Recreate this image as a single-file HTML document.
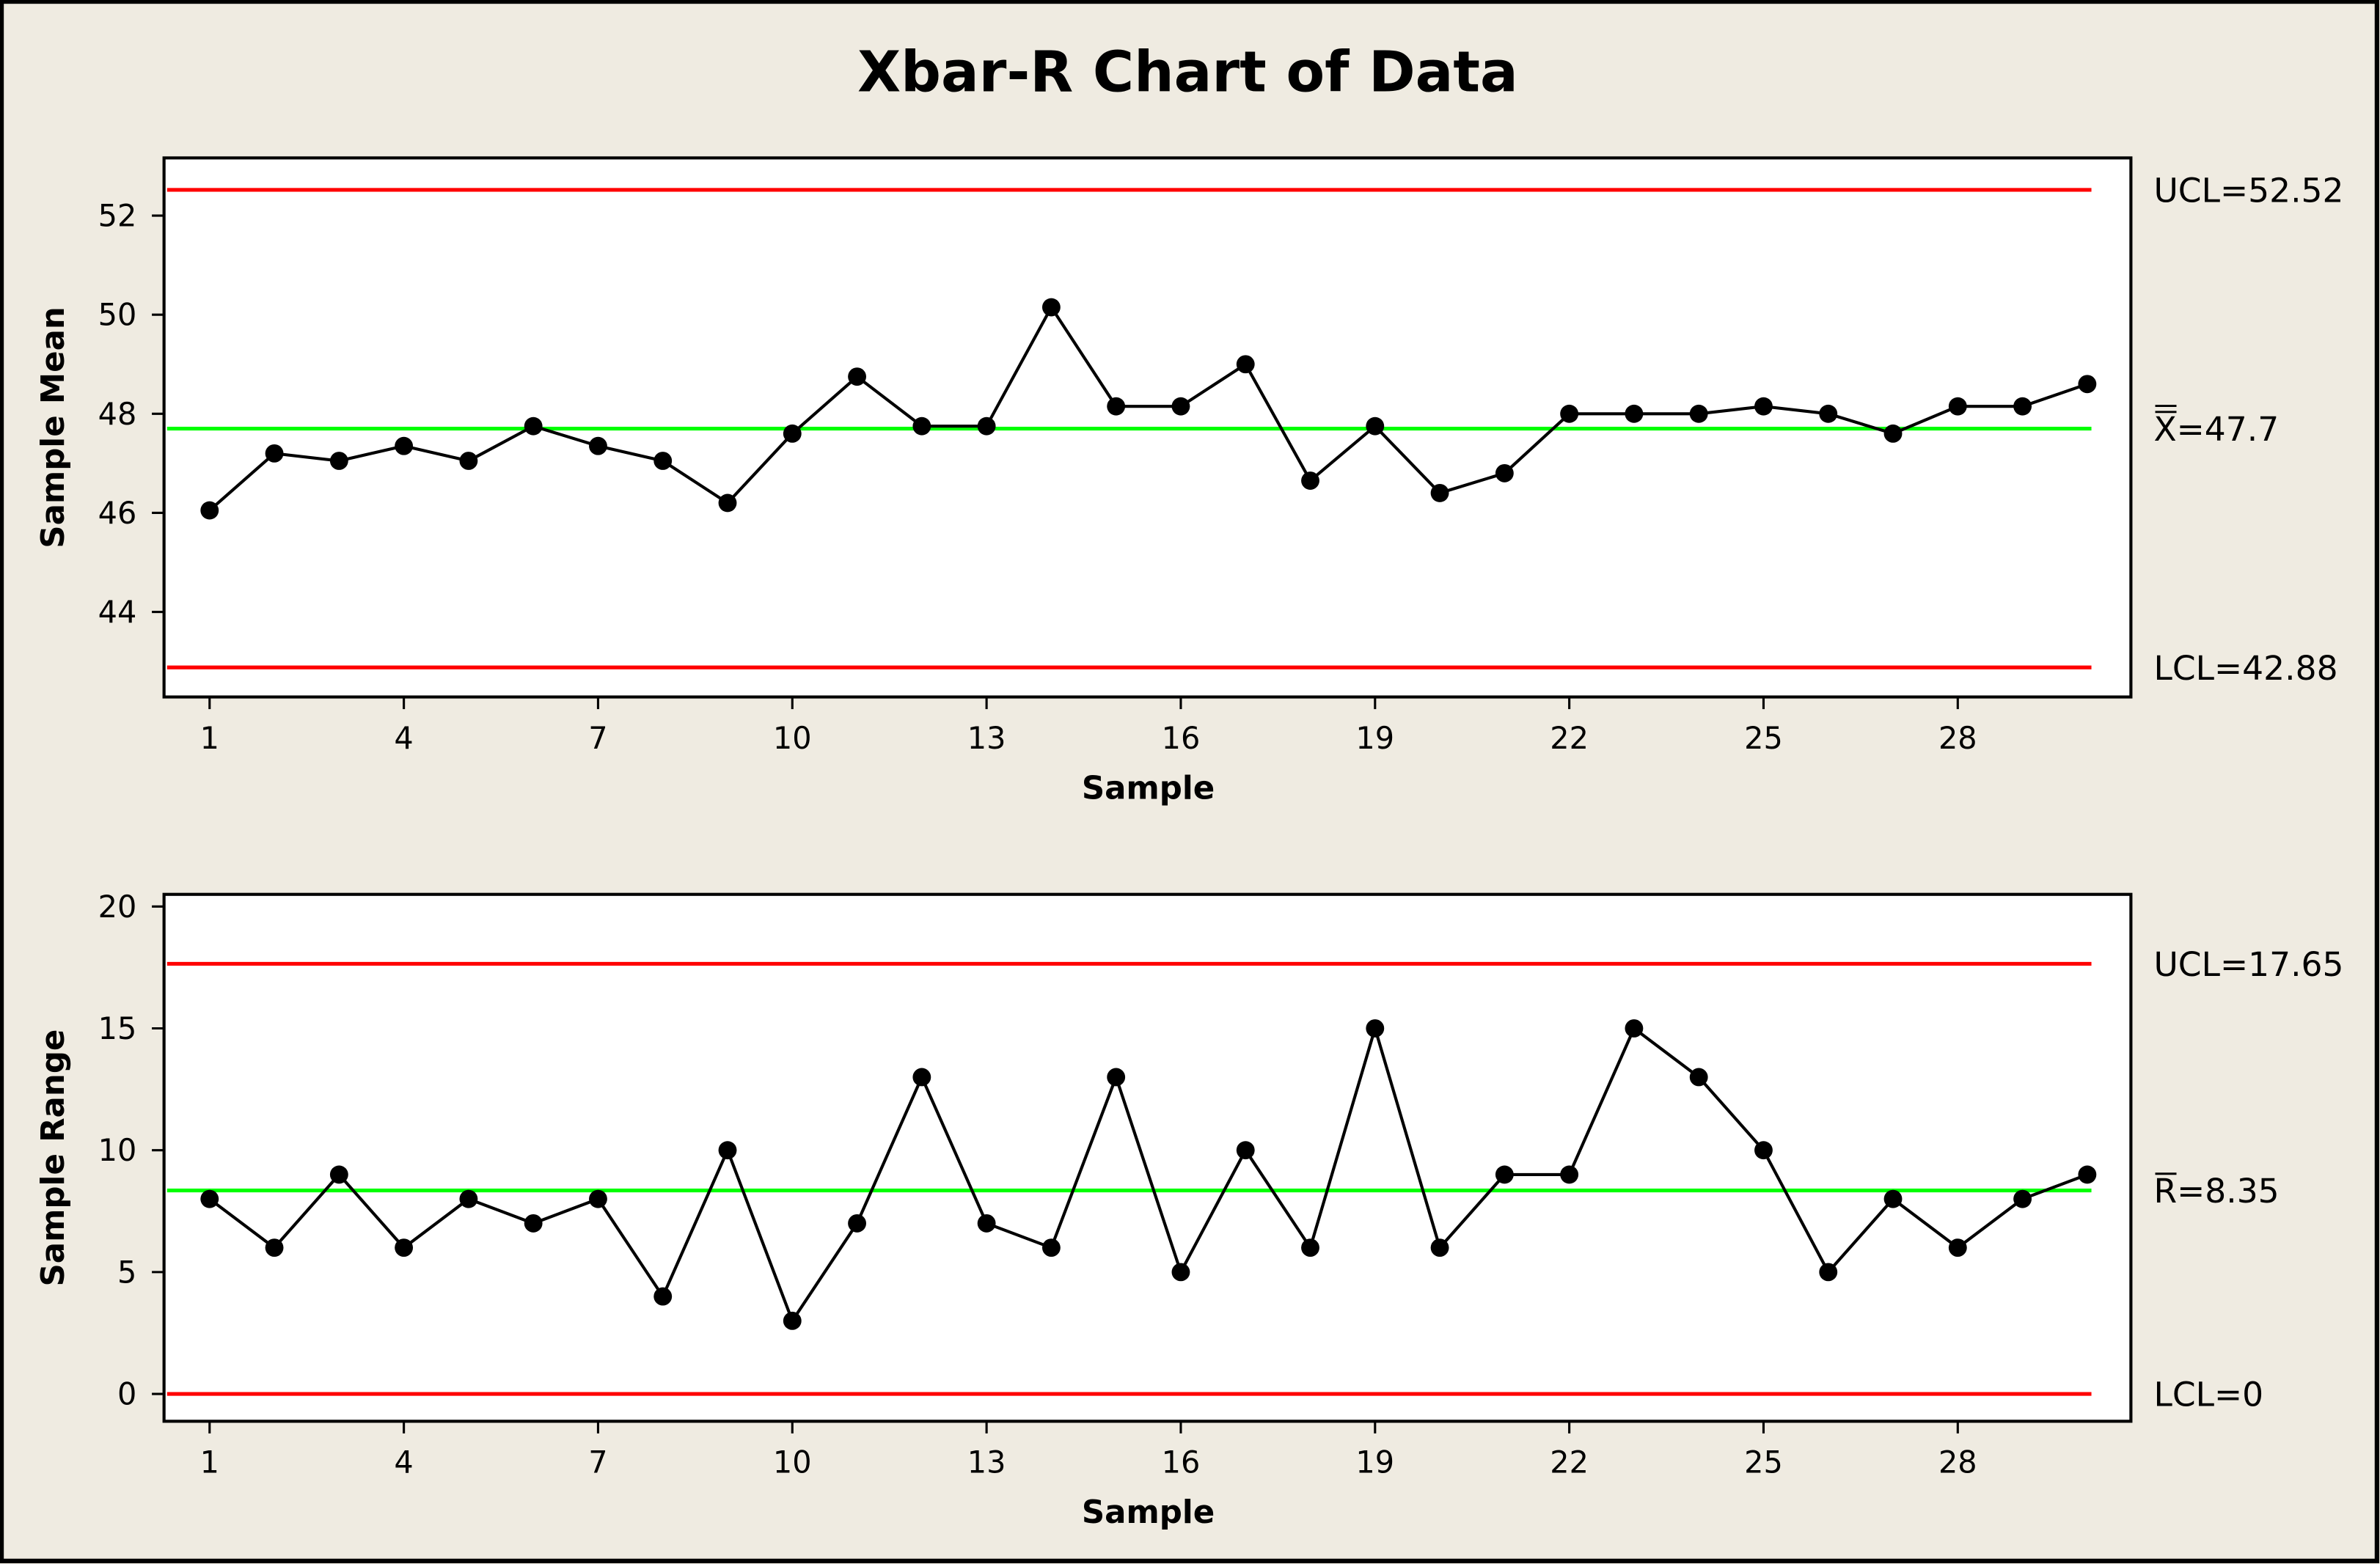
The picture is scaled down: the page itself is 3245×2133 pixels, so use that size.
<!DOCTYPE html>
<html><head><meta charset="utf-8"><style>
html,body{margin:0;padding:0;background:#efebe1;}
svg{display:block;}
text{font-family:"DejaVu Sans","Liberation Sans",sans-serif;fill:#000;}
</style></head><body>
<svg id="c" width="3245" height="2133" viewBox="0 0 1567 1030" preserveAspectRatio="none" xmlns="http://www.w3.org/2000/svg">
<rect x="1" y="1" width="1564" height="1027" fill="#efebe1" stroke="#000" stroke-width="3"/>
<text x="782" y="60" text-anchor="middle" font-size="37" font-weight="bold">Xbar-R Chart of Data</text>
<g id="g"></g>
</svg>
<script>
const samples=[1,2,3,4,5,6,7,8,9,10,11,12,13,14,15,16,17,18,19,20,21,22,23,24,25,26,27,28,29,30];
const xTicks=[1,4,7,10,13,16,19,22,25,28];
const meanValues=[46.05,47.2,47.05,47.35,47.05,47.75,47.35,47.05,46.2,47.6,48.75,47.75,47.75,50.15,48.15,48.15,49.0,46.65,47.75,46.4,46.8,48.0,48.0,48.0,48.15,48.0,47.6,48.15,48.15,48.6];
const rangeValues=[8,6,9,6,8,7,8,4,10,3,7,13,7,6,13,5,10,6,15,6,9,9,15,13,10,5,8,6,8,9];
const meanTicks=[44,46,48,50,52];
const rangeTicks=[0,5,10,15,20];
const meanLimits=[52.52,47.7,42.88];
const rangeLimits=[17.65,8.35,0];
const NS="http://www.w3.org/2000/svg";
const g=document.getElementById('g');
function mk(t,a,txt){const e=document.createElementNS(NS,t);for(const k in a)e.setAttribute(k,a[k]);if(txt!=null)e.textContent=txt;g.appendChild(e);return e;}
const X=s=>138+(s-1)*(1289-138)/27;
function panel(p){
  const Y=v=>p.y0+(v-p.v0)*(p.y1-p.y0)/(p.v1-p.v0);
  let e=mk('rect',{x:108,y:p.top,width:1295,height:p.bot-p.top,fill:'#fff',stroke:'#000','stroke-width':2});
  
  p.ticks.forEach(t=>{e=mk('line',{x1:100,x2:108,y1:Y(t),y2:Y(t),stroke:'#000','stroke-width':1.5});
    
    e=mk('text',{x:90,y:Y(t)+7,'text-anchor':'end','font-size':20},t);
    });
  xTicks.forEach(t=>{e=mk('line',{x1:X(t),x2:X(t),y1:p.bot,y2:p.bot+8,stroke:'#000','stroke-width':1.5});
    
    e=mk('text',{x:X(t),y:p.bot+34,'text-anchor':'middle','font-size':20},t);
    });
  e=mk('text',{x:756,y:p.bot+67,'text-anchor':'middle','font-size':21,'font-weight':'bold'},'Sample');
  
  const cy=(p.top+p.bot)/2;
  e=mk('text',{x:42,y:cy,'text-anchor':'middle','font-size':21,'font-weight':'bold',transform:`rotate(-90 42 ${cy})`},p.title);
  
  p.lim.forEach((v,i)=>{e=mk('line',{x1:110,x2:1377,y1:Y(v),y2:Y(v),stroke:i==1?'#00ff00':'#ff0000','stroke-width':2.5});
    
    const lbl=[ 'UCL='+v, (p.id=='mean'?'X':'R')+'='+v, 'LCL='+v][i];
    e=mk('text',{x:1418,y:Y(v)+8,'font-size':22},lbl);
    
    if(i==1){const n=p.id=='mean'?2:1;for(let k=0;k<n;k++){e=mk('line',{x1:1419,x2:1433,y1:Y(v)-11-k*4,y2:Y(v)-11-k*4,stroke:'#000','stroke-width':1.4});
      }}
  });
  e=mk('polyline',{points:p.vals.map((v,i)=>X(samples[i])+','+Y(v)).join(' '),fill:'none',stroke:'#000','stroke-width':2});
  
  p.vals.forEach((v,i)=>{e=mk('circle',{cx:X(samples[i]),cy:Y(v),r:6,fill:'#000'});
    });
}
panel({id:'mean',top:104,bot:459,y0:142,v0:52,y1:403,v1:44,ticks:meanTicks,vals:meanValues,lim:meanLimits,title:'Sample Mean'});
panel({id:'range',top:589,bot:936,y0:597,v0:20,y1:918,v1:0,ticks:rangeTicks,vals:rangeValues,lim:rangeLimits,title:'Sample Range'});
</script>
</body></html>
